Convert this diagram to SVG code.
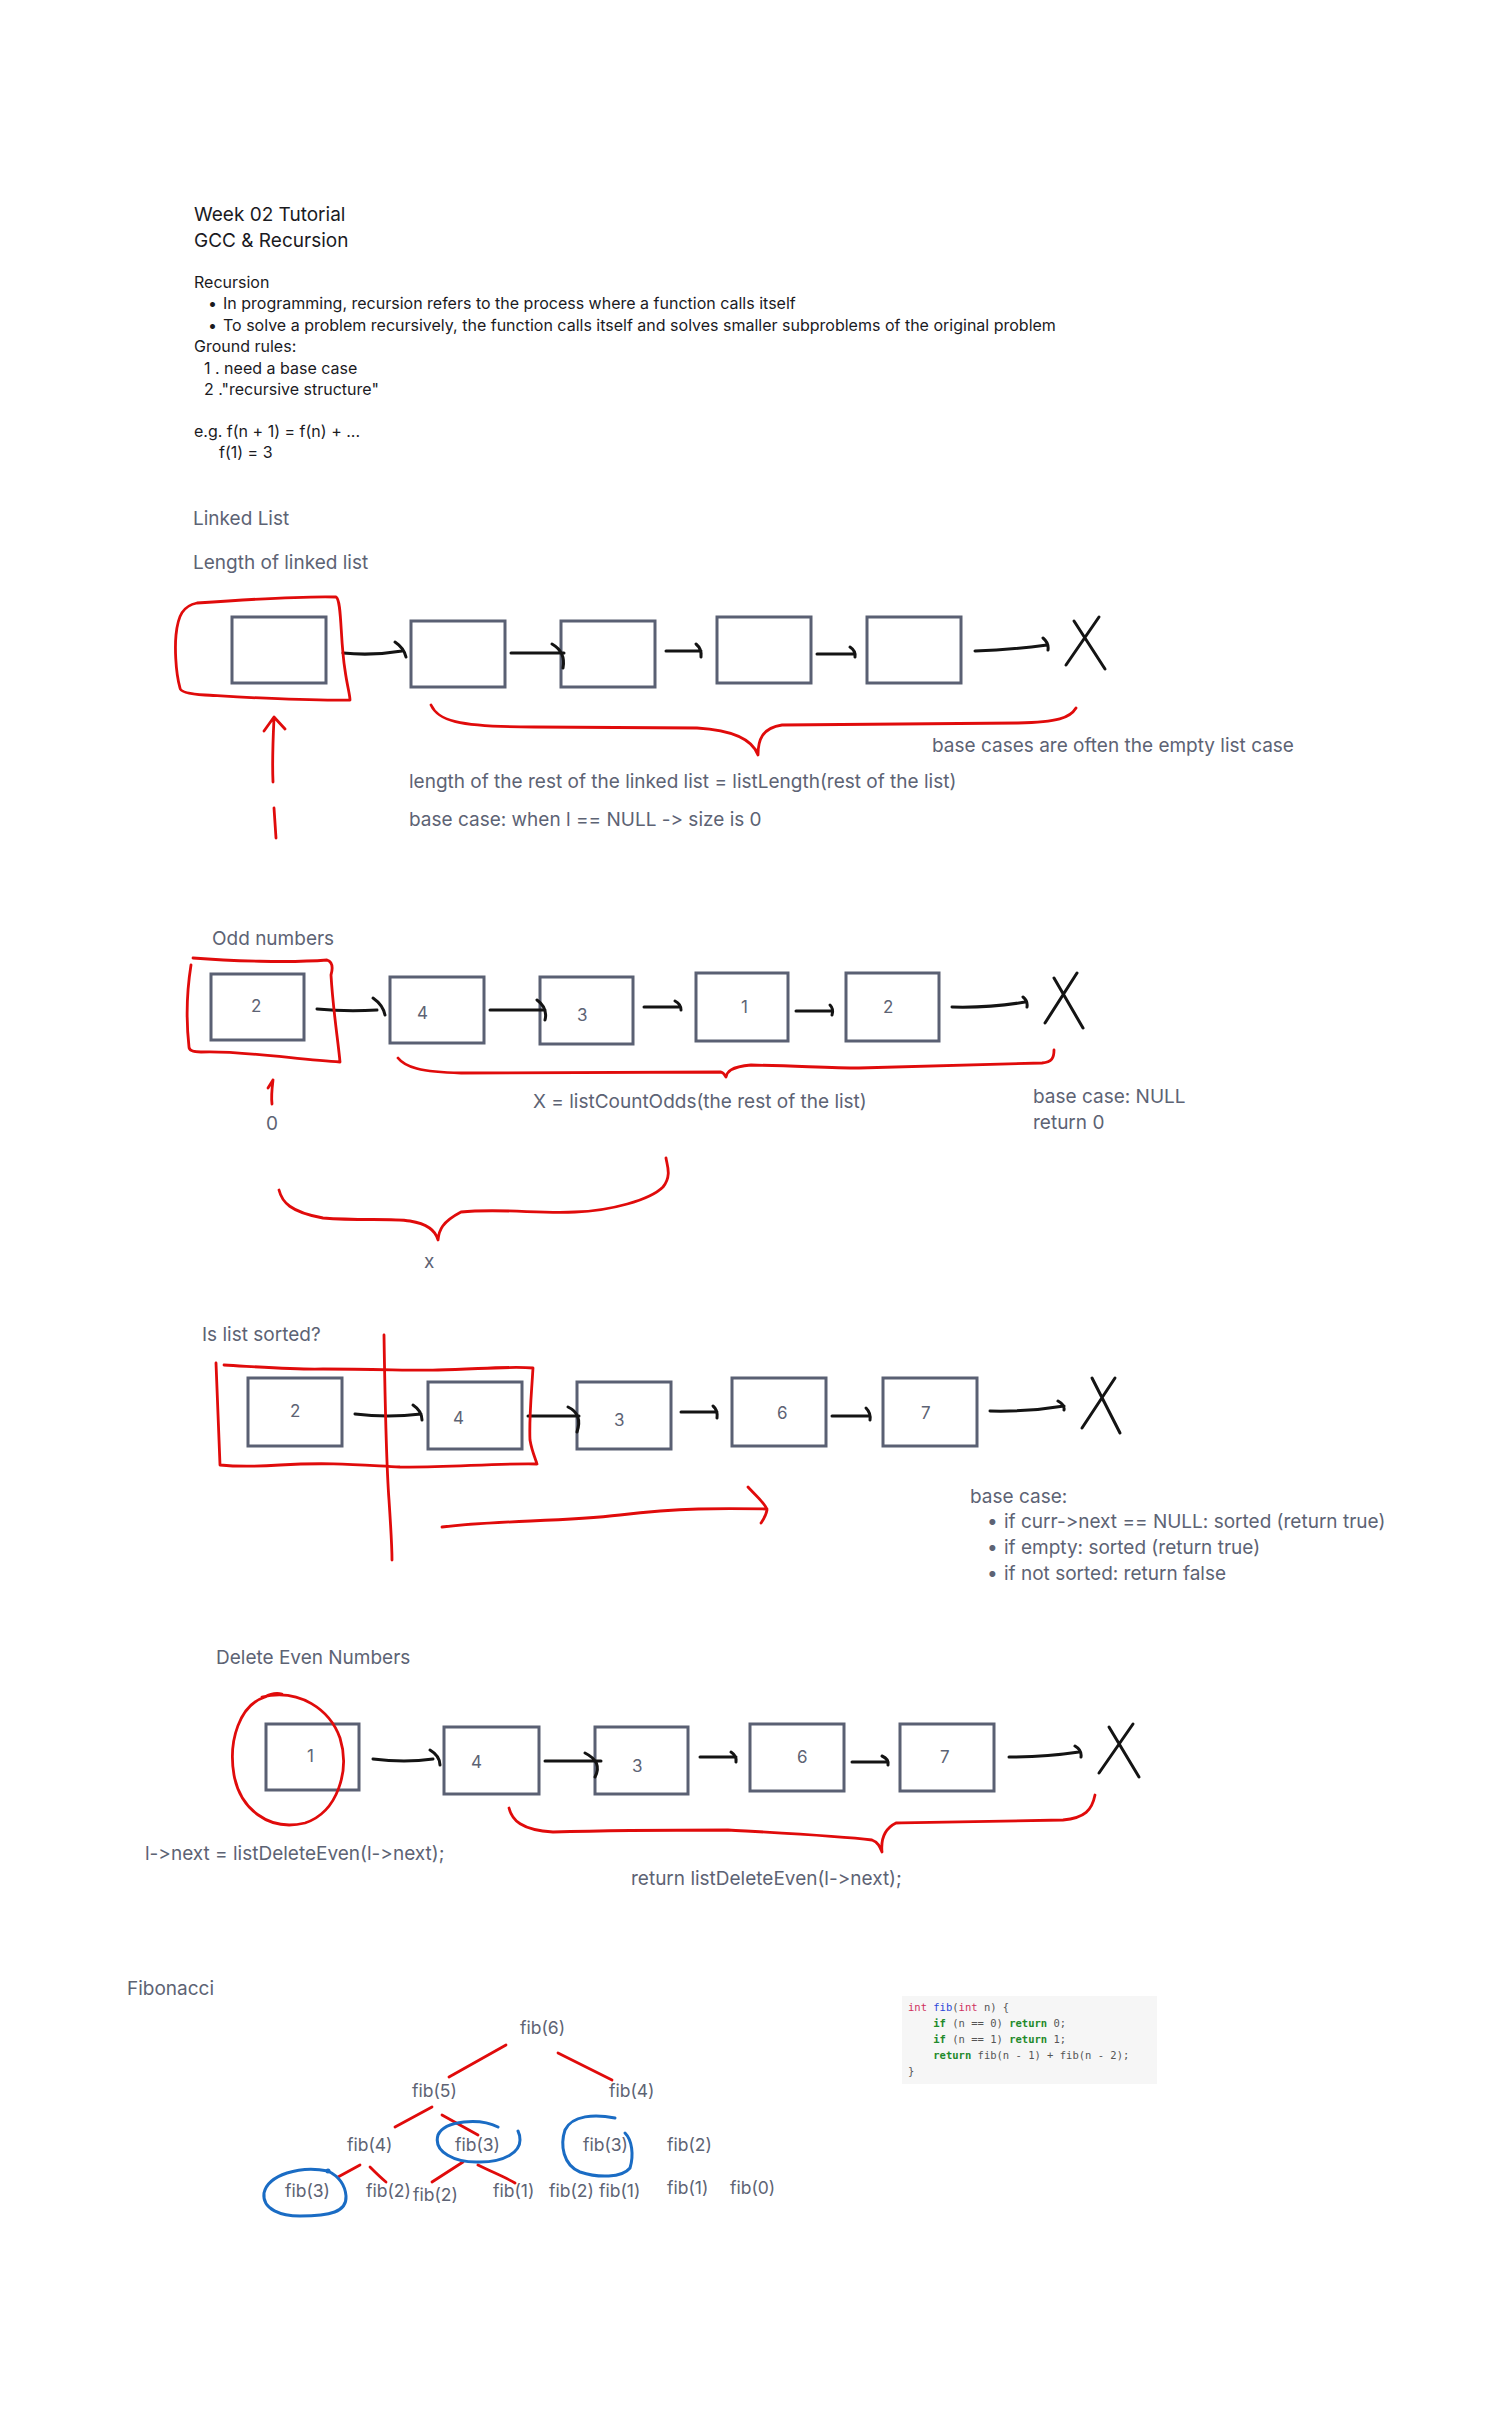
<svg xmlns="http://www.w3.org/2000/svg" width="1505" height="2418" viewBox="0 0 1505 2418">
<style>
text{font-family:Inter,"Liberation Sans",sans-serif;font-feature-settings:"calt" 0,"liga" 0;font-variant-ligatures:none}
.t{fill:#1b1b1f;font-size:16px}
.h{fill:#1b1b1f;font-size:19px}
.g{fill:#5d6374;font-size:19px}
.n{fill:#5d6374;font-size:17px}
.f{fill:#5d6374;font-size:17.5px}
.box{fill:#fff;stroke:#5a6073;stroke-width:3}
.arr{fill:none;stroke:#141414;stroke-width:3;stroke-linecap:round;stroke-linejoin:round}
.red{fill:none;stroke:#e00b0b;stroke-width:2.8;stroke-linecap:round;stroke-linejoin:round}
.blue{fill:none;stroke:#1a6cc4;stroke-width:3;stroke-linecap:round;stroke-linejoin:round}
.code{font-family:"DejaVu Sans Mono","Liberation Mono",monospace;font-size:10.5px;fill:#555}
.kw{fill:#1f8a2b;font-weight:bold}
.ty{fill:#d0315e}
.fn{fill:#2b47d9}
</style>
<rect width="1505" height="2418" fill="#fff"/>

<g id="intro">
<text class="h" x="194" y="221">Week 02 Tutorial</text>
<text class="h" x="194" y="247">GCC &amp; Recursion</text>
<text class="t" x="194" y="288">Recursion</text>
<text class="t" x="208" y="309">•</text>
<text class="t" x="223" y="309">In programming, recursion refers to the process where a function calls itself</text>
<text class="t" x="208" y="331">•</text>
<text class="t" x="223" y="331">To solve a problem recursively, the function calls itself and solves smaller subproblems of the original problem</text>
<text class="t" x="194" y="352">Ground rules:</text>
<text class="t" x="204" y="374">1 . need a base case</text>
<text class="t" x="204" y="395">2 ."recursive structure"</text>
<text class="t" x="194" y="437">e.g. f(n + 1) = f(n) + ...</text>
<text class="t" x="219" y="458">f(1) = 3</text>
</g>

<g id="linked-list-section">
<text class="g" x="193" y="525">Linked List</text>
<text class="g" x="193" y="569">Length of linked list</text>
<text class="g" x="932" y="752">base cases are often the empty list case</text>
<text class="g" x="409" y="788">length of the rest of the linked list = listLength(rest of the list)</text>
<text class="g" x="409" y="826">base case: when l == NULL -&gt; size is 0</text>
</g>
<g id="ll-n1"><rect class="box" x="232" y="617" width="94" height="66"/></g>
<g id="ll-n2"><rect class="box" x="411" y="621" width="94" height="66"/></g>
<g id="ll-n3"><rect class="box" x="561" y="621" width="94" height="66"/></g>
<g id="ll-n4"><rect class="box" x="717" y="617" width="94" height="66"/></g>
<g id="ll-n5"><rect class="box" x="867" y="617" width="94" height="66"/></g>

<g id="odd-section">
<text class="g" x="212" y="945">Odd numbers</text>
<text class="g" x="533" y="1108">X = listCountOdds(the rest of the list)</text>
<text class="g" x="1033" y="1103">base case: NULL</text>
<text class="g" x="1033" y="1129">return 0</text>
<text class="g" x="266" y="1130">0</text>
<text class="g" x="424" y="1268">x</text>
</g>
<g id="odd-n1"><rect class="box" x="211" y="974" width="93" height="66"/><text class="n" x="251" y="1012">2</text></g>
<g id="odd-n2"><rect class="box" x="390" y="977" width="94" height="66"/><text class="n" x="417" y="1019">4</text></g>
<g id="odd-n3"><rect class="box" x="540" y="977" width="93" height="67"/><text class="n" x="577" y="1021">3</text></g>
<g id="odd-n4"><rect class="box" x="696" y="973" width="92" height="68"/><text class="n" x="741" y="1013">1</text></g>
<g id="odd-n5"><rect class="box" x="846" y="973" width="93" height="68"/><text class="n" x="883" y="1013">2</text></g>

<g id="sorted-section">
<text class="g" x="202" y="1341">Is list sorted?</text>
<text class="g" x="970" y="1503">base case:</text>
<text class="g" x="987" y="1528">•</text>
<text class="g" x="1004" y="1528">if curr-&gt;next == NULL: sorted (return true)</text>
<text class="g" x="987" y="1554">•</text>
<text class="g" x="1004" y="1554">if empty: sorted (return true)</text>
<text class="g" x="987" y="1580">•</text>
<text class="g" x="1004" y="1580">if not sorted: return false</text>
</g>
<g id="sorted-n1"><rect class="box" x="248" y="1378" width="94" height="68"/><text class="n" x="290" y="1417">2</text></g>
<g id="sorted-n2"><rect class="box" x="428" y="1382" width="94" height="67"/><text class="n" x="453" y="1424">4</text></g>
<g id="sorted-n3"><rect class="box" x="577" y="1382" width="94" height="67"/><text class="n" x="614" y="1426">3</text></g>
<g id="sorted-n4"><rect class="box" x="732" y="1378" width="94" height="68"/><text class="n" x="777" y="1419">6</text></g>
<g id="sorted-n5"><rect class="box" x="883" y="1378" width="94" height="68"/><text class="n" x="921" y="1419">7</text></g>

<g id="delete-section">
<text class="g" x="216" y="1664">Delete Even Numbers</text>
<text class="g" x="145" y="1860">l-&gt;next = listDeleteEven(l-&gt;next);</text>
<text class="g" x="631" y="1885">return listDeleteEven(l-&gt;next);</text>
</g>
<g id="del-n1"><rect class="box" x="266" y="1724" width="93" height="66"/><text class="n" x="307" y="1762">1</text></g>
<g id="del-n2"><rect class="box" x="444" y="1727" width="95" height="67"/><text class="n" x="471" y="1768">4</text></g>
<g id="del-n3"><rect class="box" x="595" y="1727" width="93" height="67"/><text class="n" x="632" y="1772">3</text></g>
<g id="del-n4"><rect class="box" x="750" y="1724" width="94" height="67"/><text class="n" x="797" y="1763">6</text></g>
<g id="del-n5"><rect class="box" x="900" y="1724" width="94" height="67"/><text class="n" x="940" y="1763">7</text></g>

<g id="fib-section">
<text class="g" x="127" y="1995">Fibonacci</text>
<text class="f" x="520" y="2034">fib(6)</text>
<text class="f" x="412" y="2097">fib(5)</text>
<text class="f" x="609" y="2097">fib(4)</text>
<text class="f" x="347" y="2151">fib(4)</text>
<text class="f" x="455" y="2151">fib(3)</text>
<text class="f" x="583" y="2151">fib(3)</text>
<text class="f" x="667" y="2151">fib(2)</text>
<text class="f" x="285" y="2197">fib(3)</text>
<text class="f" x="366" y="2197">fib(2)</text>
<text class="f" x="413" y="2201">fib(2)</text>
<text class="f" x="493" y="2197">fib(1)</text>
<text class="f" x="549" y="2197">fib(2)</text>
<text class="f" x="599" y="2197">fib(1)</text>
<text class="f" x="667" y="2194">fib(1)</text>
<text class="f" x="730" y="2194">fib(0)</text>
</g>

<g id="code">
<rect x="902" y="1996" width="255" height="88" fill="#f6f6f6"/>
<text class="code" x="908" y="2011"><tspan class="ty">int</tspan> <tspan class="fn">fib</tspan>(<tspan class="ty">int</tspan> n) {</text>
<text class="code" x="908" y="2027" xml:space="preserve">    <tspan class="kw">if</tspan> (n == 0) <tspan class="kw">return</tspan> 0;</text>
<text class="code" x="908" y="2043" xml:space="preserve">    <tspan class="kw">if</tspan> (n == 1) <tspan class="kw">return</tspan> 1;</text>
<text class="code" x="908" y="2059" xml:space="preserve">    <tspan class="kw">return</tspan> fib(n - 1) + fib(n - 2);</text>
<text class="code" x="908" y="2075">}</text>
</g>

<g id="connectors">
<path class="arr" d="M343,653 Q372,656 402,651 M395,642 Q404,648 406,657"/>
<path class="arr" d="M511,653 L564,653 M552,644 Q566,652 563,668"/>
<path class="arr" d="M666,651 L701,651 M696,644 Q702,649 701,657"/>
<path class="arr" d="M817,654 L854,654 M850,647 Q856,651 855,657"/>
<path class="arr" d="M975,651 Q1010,650 1047,645 M1043,638 Q1049,643 1048,650"/>
<path class="arr" d="M1099,617 L1066,665 M1074,621 L1105,669"/>
<path class="arr" d="M317,1009 Q347,1012 377,1010 M373,998 Q383,1005 385,1015"/>
<path class="arr" d="M490,1010 L545,1010 M537,1000 Q548,1008 545,1020"/>
<path class="arr" d="M644,1007 L679,1007 M675,1001 Q681,1004 681,1010"/>
<path class="arr" d="M796,1011 L832,1011 M830,1005 Q834,1009 832,1015"/>
<path class="arr" d="M952,1007 Q990,1008 1025,1002 M1023,997 Q1028,1001 1027,1007"/>
<path class="arr" d="M1054,978 L1083,1028 M1077,973 L1045,1023"/>
<path class="arr" d="M355,1414 Q388,1418 421,1414 M413,1405 Q422,1411 422,1420"/>
<path class="arr" d="M528,1416 L579,1416 M568,1407 Q583,1414 577,1432"/>
<path class="arr" d="M681,1412 L717,1412 M713,1406 Q718,1410 717,1418"/>
<path class="arr" d="M832,1416 L870,1416 M866,1408 Q871,1413 870,1420"/>
<path class="arr" d="M990,1411 Q1028,1412 1064,1406 M1058,1401 Q1065,1405 1064,1410"/>
<path class="arr" d="M1092,1378 L1120,1433 M1115,1378 L1082,1428"/>
<path class="arr" d="M373,1759 Q405,1763 433,1759 M430,1750 Q440,1756 440,1765"/>
<path class="arr" d="M545,1761 L601,1761 M585,1753 Q603,1762 595,1777"/>
<path class="arr" d="M700,1757 L736,1757 M731,1752 Q737,1756 736,1762"/>
<path class="arr" d="M852,1762 L888,1762 M882,1756 Q889,1759 888,1765"/>
<path class="arr" d="M1009,1757 Q1045,1757 1079,1752 M1075,1746 Q1082,1750 1081,1757"/>
<path class="arr" d="M1109,1727 L1139,1777 M1133,1724 L1099,1773"/>
</g>

<g id="annotations">
<path class="red" d="M197,603 C240,600 300,596 336,597 C342,600 340,640 345,670 C347,685 350,695 350,700 C300,701 240,697 205,695 C190,694 180,692 180,688 C175,670 175,645 176,635 C178,615 183,606 197,603 Z"/>
<path class="red" d="M273,782 C272,760 273,740 274,718 M264,731 L274,717 L285,729"/>
<path class="red" d="M274,808 L276,838"/>
<path class="red" d="M431,705 C438,720 455,727 534,727 L697,728 C730,730 752,738 758,755 C758,740 762,728 782,725 L1018,723 C1058,722 1070,718 1076,708"/>
<path class="red" d="M193,958 C230,961 290,963 327,960 C333,962 333,968 331,975 C333,1010 338,1040 340,1062 C300,1060 240,1050 201,1052 C193,1052 189,1050 189,1047 C186,1020 187,990 191,965"/>
<path class="red" d="M272,1104 C271,1096 272,1088 273,1080 M268,1088 L273,1080"/>
<path class="red" d="M398,1058 C405,1067 420,1072 461,1073 L721,1072 C724,1073 725,1075 726,1077 C727,1072 730,1067 751,1065 C800,1066 830,1068 859,1068 C950,1066 1010,1064 1042,1063 C1052,1062 1054,1058 1054,1050"/>
<path class="red" d="M279,1190 C282,1202 290,1212 323,1218 C360,1221 390,1218 410,1221 C428,1224 436,1232 438,1240 C439,1230 442,1222 461,1212 C500,1208 540,1214 575,1212 C610,1211 650,1200 663,1187 C672,1176 667,1165 666,1158"/>
<path class="red" d="M384,1335 C385,1400 386,1460 389,1500 C391,1530 392,1545 392,1560"/>
<path class="red" d="M224,1365 C260,1367 300,1370 323,1369 C380,1369 420,1371 438,1370 C480,1369 510,1366 533,1368 C531,1400 529,1420 530,1440 C532,1452 536,1460 537,1464 C500,1463 440,1468 400,1467 C360,1465 330,1462 280,1465 C250,1467 230,1466 220,1465 C218,1420 217,1390 216,1363"/>
<path class="red" d="M442,1527 C500,1520 560,1522 620,1515 C680,1508 720,1508 767,1509 M748,1487 C756,1496 766,1504 767,1510 C766,1516 763,1520 761,1523"/>
<path class="red" d="M262,1697 C300,1688 330,1710 340,1738 C350,1770 338,1812 305,1823 C268,1832 240,1808 234,1775 C228,1740 240,1705 265,1697 C270,1694 277,1693 282,1694"/>
<path class="red" d="M509,1808 C512,1820 521,1830 553,1832 C620,1830 680,1830 728,1830 C800,1834 840,1836 872,1840 C878,1842 880,1847 882,1852 C881,1842 882,1830 896,1823 C930,1822 960,1822 1063,1820 C1085,1818 1092,1810 1095,1795"/>
<path class="red" d="M506,2045 L449,2077"/>
<path class="red" d="M558,2053 L612,2080"/>
<path class="red" d="M432,2107 L395,2127"/>
<path class="red" d="M442,2115 L478,2135"/>
<path class="red" d="M360,2165 L338,2177"/>
<path class="red" d="M370,2167 C375,2172 380,2177 386,2182"/>
<path class="red" d="M463,2162 L432,2182"/>
<path class="red" d="M478,2165 C492,2172 505,2177 515,2183"/>
<path class="blue" d="M328,2171 C300,2165 268,2175 264,2193 C262,2210 282,2216 300,2216 C330,2216 347,2212 346,2196 C345,2184 338,2176 328,2171"/>
<circle cx="328" cy="2171" r="2.5" fill="#1a6cc4"/>
<path class="blue" d="M498,2127 C480,2118 445,2120 438,2135 C433,2152 455,2163 480,2162 C505,2162 520,2152 520,2140 C520,2136 519,2133 518,2131"/>
<path class="blue" d="M615,2118 C595,2114 572,2115 565,2130 C560,2145 563,2165 580,2172 C598,2178 622,2178 630,2168 C634,2155 632,2140 625,2133"/>
</g>
</svg>
